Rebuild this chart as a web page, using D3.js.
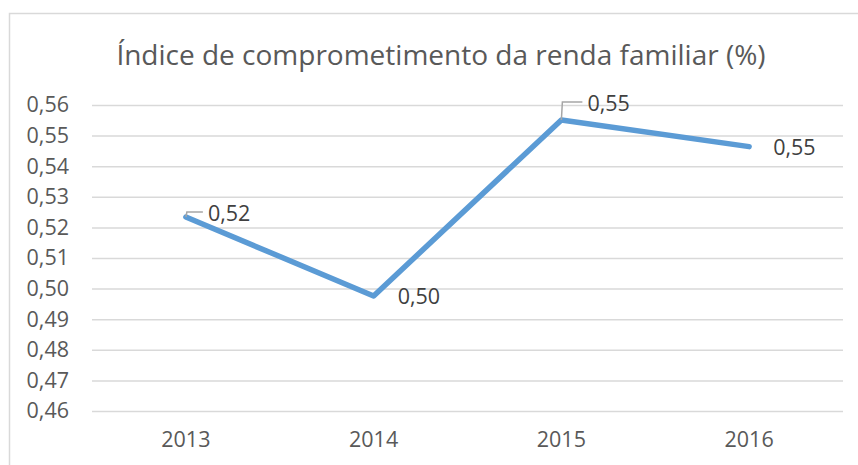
<!DOCTYPE html>
<html>
<head>
<meta charset="utf-8">
<script src="https://cdn.jsdelivr.net/npm/d3@7"></script>
</head>
<body style="margin: 0; background: #ffffff;">
<svg id="chart" width="858" height="465"></svg>
<script>
    'use strict';

    var years = ["2013", "2014", "2015", "2016"];
    var values = [0.5234, 0.4976, 0.5551, 0.5464];
    var labels = ["0,52", "0,50", "0,55", "0,55"];
    var yTicks = [0.46, 0.47, 0.48, 0.49, 0.50, 0.51, 0.52, 0.53, 0.54, 0.55, 0.56];
    var title = "Índice de comprometimento da renda familiar (%)";

    var font = "'Open Sans', sans-serif";
    var labelSize = "21.5px";
    var plotLeft = 92, plotRight = 843, plotTop = 105, plotBottom = 411;

    var svg = d3.select("#chart");

    // chart border (only top/left visible in the crop)
    svg.append("rect")
        .attr("x", 9.5).attr("y", 13.5)
        .attr("width", 860).attr("height", 470)
        .attr("fill", "none").attr("stroke", "#d9d9d9").attr("stroke-width", 1.5);

    svg.append("text")
        .attr("x", 441).attr("y", 65)
        .attr("text-anchor", "middle")
        .style("font-family", font).style("font-size", "28px")
        .attr("fill", "#595959")
        .text(title);

    var x = d3.scaleBand().domain(years).range([plotLeft, plotRight]);
    var y = d3.scaleLinear().domain([0.46, 0.56]).range([plotBottom, plotTop]);

    var yAxis = svg.append("g")
        .attr("transform", "translate(" + plotLeft + ",0)")
        .call(d3.axisLeft(y).tickValues(yTicks)
            .tickSize(-(plotRight - plotLeft)).tickPadding(23)
            .tickFormat(function(d) { return d3.format(".2f")(d).replace(".", ","); }));
    yAxis.select(".domain").remove();
    yAxis.selectAll("line").attr("stroke", "#d9d9d9").attr("stroke-width", 1.5);
    yAxis.selectAll("text")
        .attr("fill", "#595959")
        .style("font-family", font).style("font-size", labelSize);

    var xAxis = svg.append("g")
        .attr("transform", "translate(0," + plotBottom + ")")
        .call(d3.axisBottom(x).tickSize(0).tickPadding(21));
    xAxis.select(".domain").remove();
    xAxis.selectAll("text")
        .attr("fill", "#595959")
        .style("font-family", font).style("font-size", labelSize);

    var pts = years.map(function(d, i) {
        return { x: x(d) + x.bandwidth() / 2, y: y(values[i]), label: labels[i] };
    });

    svg.append("path")
        .datum(pts)
        .attr("fill", "none")
        .attr("stroke", "#5b9bd5")
        .attr("stroke-width", 5.5)
        .attr("stroke-linejoin", "round")
        .attr("stroke-linecap", "round")
        .attr("d", d3.line().x(function(d) { return d.x; }).y(function(d) { return d.y; }));

    // label offsets (dx, dy of text left/middle relative to point), leader when set
    var labelPos = [
        { dx: 22, dy: -4, leader: true },
        { dx: 24, dy: 1, leader: false },
        { dx: 26, dy: -17, leader: true },
        { dx: 24, dy: 1, leader: false }
    ];

    pts.forEach(function(p, i) {
        var lp = labelPos[i];
        if (lp.leader) {
            svg.append("path")
                .attr("fill", "none")
                .attr("stroke", "#a6a6a6")
                .attr("stroke-width", 1.5)
                .attr("d", "M" + p.x + "," + p.y + "L" + (p.x + 1) + "," + (p.y + lp.dy - 1) +
                    "L" + (p.x + lp.dx - 5) + "," + (p.y + lp.dy - 1));
        }
        svg.append("text")
            .attr("x", p.x + lp.dx).attr("y", p.y + lp.dy)
            .attr("dy", "0.35em")
            .attr("fill", "#404040")
            .style("font-family", font).style("font-size", labelSize)
            .text(p.label);
    });
</script>
</body>
</html>
